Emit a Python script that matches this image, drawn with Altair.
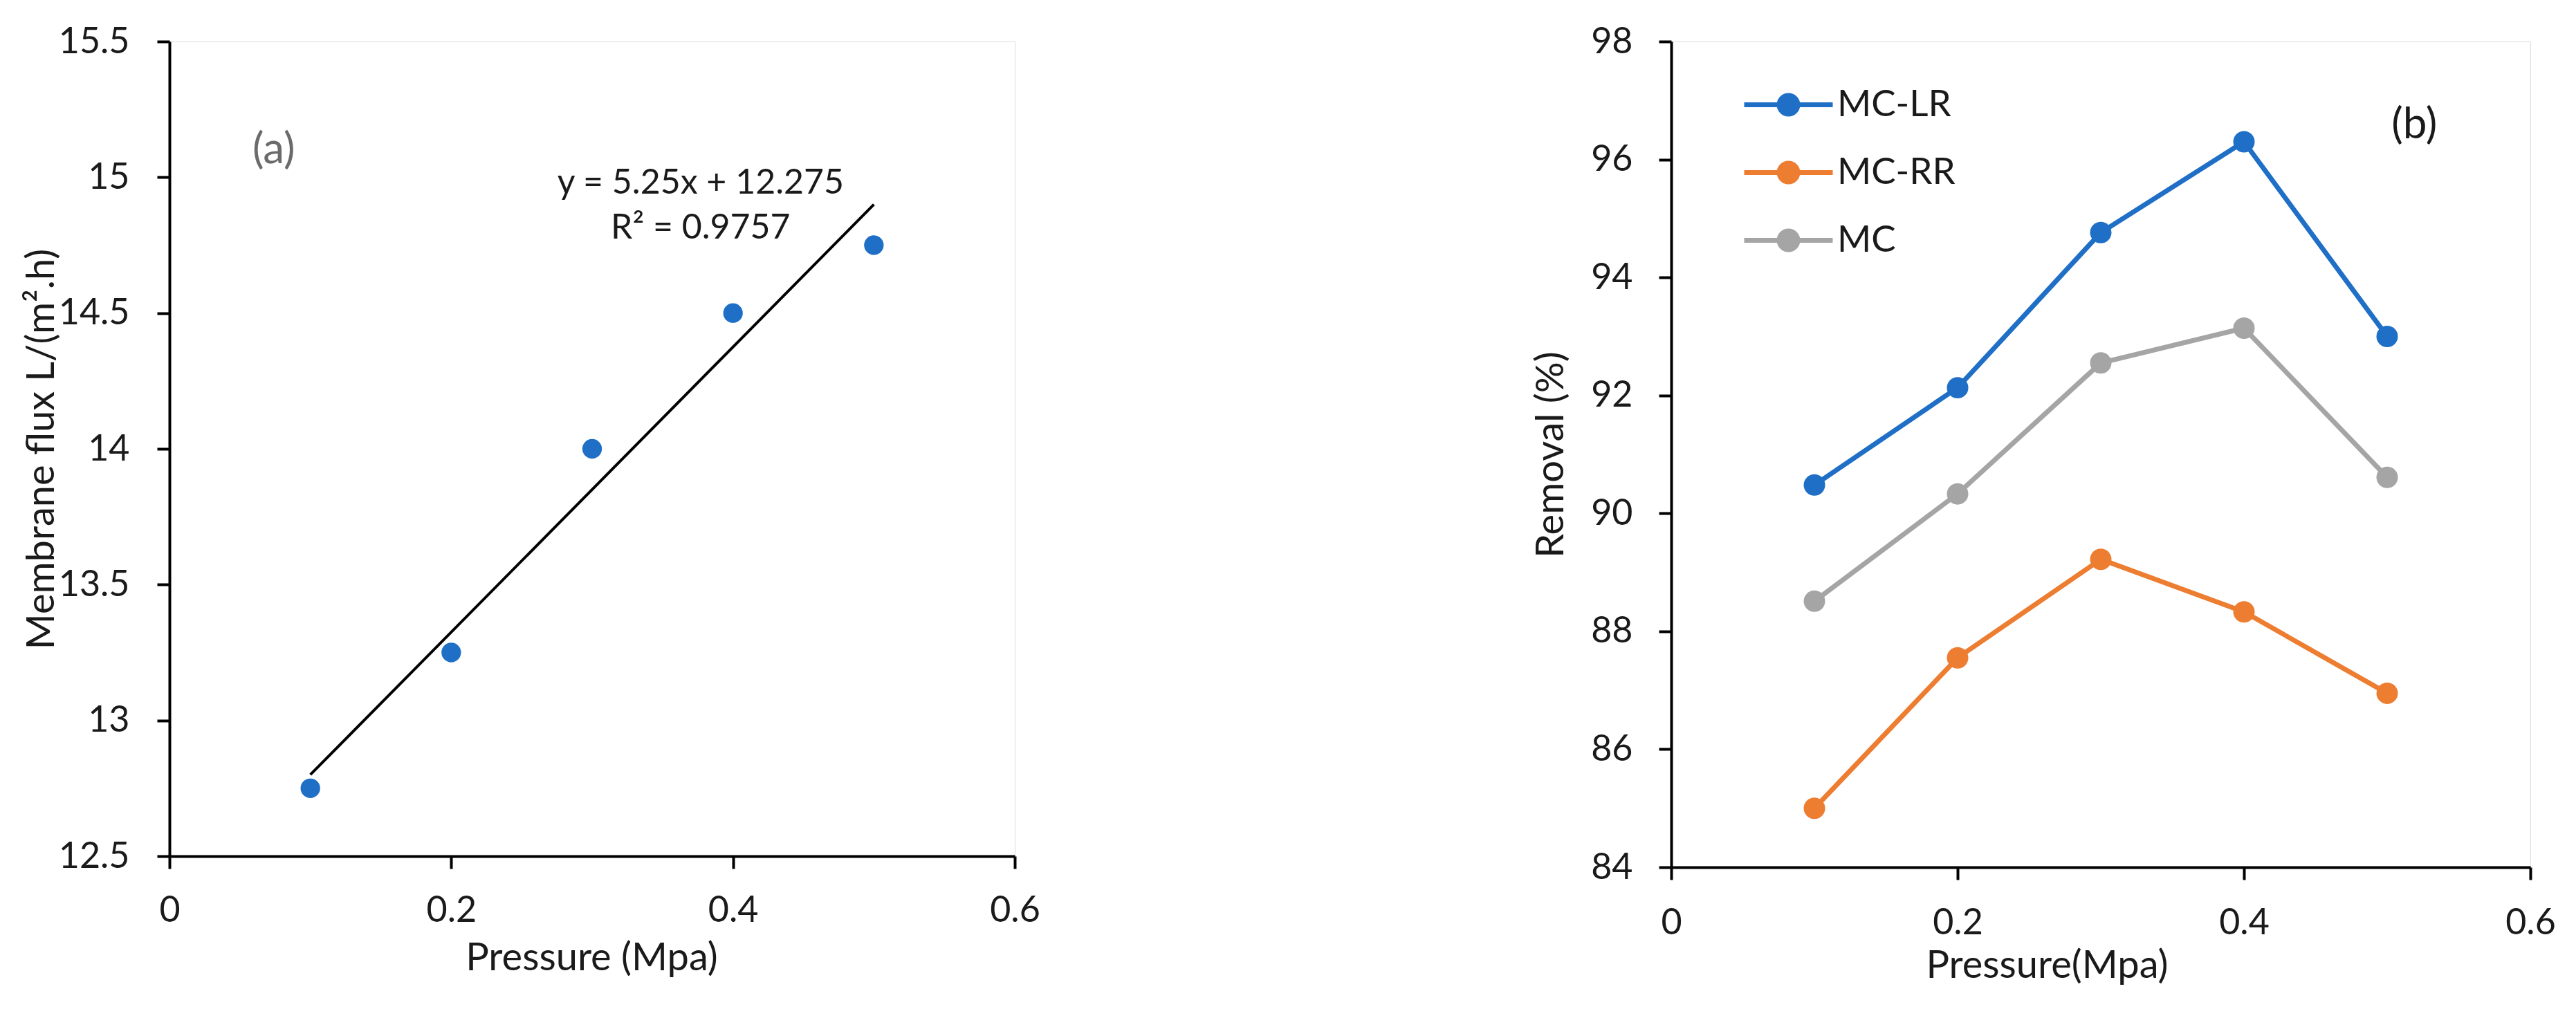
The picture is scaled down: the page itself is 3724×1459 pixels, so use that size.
import altair as alt
import pandas as pd

# ---------------- data ----------------
pressure = [0.1, 0.2, 0.3, 0.4, 0.5]
flux = [12.75, 13.25, 14.0, 14.5, 14.75]

series_names = ["MC-LR", "MC-RR", "MC"]
series_colors = ["#1F6FC6", "#ED7D31", "#A5A5A5"]
removal_mclr = [90.48, 92.13, 94.76, 96.30, 93.00]
removal_mcrr = [85.00, 87.55, 89.22, 88.33, 86.95]
removal_mc = [88.51, 90.33, 92.55, 93.14, 90.61]

x_ticks = [0, 0.2, 0.4, 0.6]
flux_ticks = [12.5, 13, 13.5, 14, 14.5, 15, 15.5]
removal_ticks = [84, 86, 88, 90, 92, 94, 96, 98]

eq_text = ["y = 5.25x + 12.275", "R\u00b2 = 0.9757"]
eq_x = [0.377, 0.377]
eq_y = [14.978, 14.812]
panel_a_label, panel_a_x, panel_a_y = "(a)", 0.074, 15.10
panel_b_label, panel_b_x, panel_b_y = "(b)", 0.519, 96.58

FONT = "Lato"
TXT = "#1a1a1a"

df_a = pd.DataFrame({"p": pressure, "flux": flux})
df_eq = pd.DataFrame({"x": eq_x, "y": eq_y, "t": eq_text})
df_la = pd.DataFrame({"x": [panel_a_x], "y": [panel_a_y], "t": [panel_a_label]})
df_lb = pd.DataFrame({"x": [panel_b_x], "y": [panel_b_y], "t": [panel_b_label]})

rows = []
for name, vals in zip(series_names, [removal_mclr, removal_mcrr, removal_mc]):
    for p, v in zip(pressure, vals):
        rows.append({"p": p, "removal": v, "series": name})
df_b = pd.DataFrame(rows)


def axis_common(**kw):
    base = dict(
        grid=False,
        domainColor="black",
        domainWidth=4,
        tickColor="black",
        tickWidth=4,
        tickSize=18,
        labelFont=FONT,
        labelFontSize=52,
        labelColor=TXT,
        labelFlush=False,
        labelOverlap=False,
        titleFont=FONT,
        titleFontSize=56,
        titleFontWeight="normal",
        titleColor=TXT,
        titleBaseline="middle",
        titleAlign="center",
        format="~g",
    )
    base.update(kw)
    return alt.Axis(**base)


# ---------------- panel (a) ----------------
W_A, H_A = 1222, 1178
xa = alt.X(
    "p:Q",
    scale=alt.Scale(domain=[0, 0.6], nice=False, zero=False),
    axis=axis_common(values=x_ticks, title="Pressure (Mpa)", labelPadding=60,
                     labelBaseline="middle", titleX=610, titleY=147),
)
ya = alt.Y(
    "flux:Q",
    scale=alt.Scale(domain=[12.5, 15.5], nice=False, zero=False),
    axis=axis_common(values=flux_ticks, title="Membrane flux L/(m\u00b2.h)",
                     labelPadding=40, titleX=-185, titleY=H_A / 2, titleAngle=270),
)

pts_a = alt.Chart(df_a).mark_circle(size=800, color="#1F6FC6", opacity=1).encode(x=xa, y=ya)
trend_a = (
    alt.Chart(df_a)
    .transform_regression("p", "flux", method="linear")
    .mark_line(color="black", strokeWidth=4)
    .encode(x="p:Q", y="flux:Q")
)
eq_a = alt.Chart(df_eq).mark_text(font=FONT, fontSize=50, color=TXT, align="center",
                                  baseline="middle").encode(x="x:Q", y="y:Q", text="t:N")
lab_a = alt.Chart(df_la).mark_text(font=FONT, fontSize=62, color="#6b6b6b", align="center",
                                   baseline="middle").encode(x="x:Q", y="y:Q", text="t:N")

panel_a = alt.layer(pts_a, trend_a, eq_a, lab_a).properties(width=W_A, height=H_A)

# ---------------- panel (b) ----------------
W_B, H_B = 1242, 1194
xb = alt.X(
    "p:Q",
    scale=alt.Scale(domain=[0, 0.6], nice=False, zero=False),
    axis=axis_common(values=x_ticks, title="Pressure(Mpa)", labelPadding=62,
                     labelBaseline="middle", titleX=543, titleY=142),
)
yb = alt.Y(
    "removal:Q",
    scale=alt.Scale(domain=[84, 98], nice=False, zero=False),
    axis=axis_common(values=removal_ticks, title="Removal (%)", labelPadding=38,
                     titleX=-174, titleY=H_B / 2, titleAngle=270),
)

color_expr = "".join(
    f"datum.value === '{n}' ? '{c}' : " for n, c in zip(series_names, series_colors)
) + "'black'"

# the legend is attached to the top-level group, whose origin is panel (a)'s plot origin
legend_b = alt.Legend(
    orient="none",
    legendX=2314,
    legendY=65,
    title=None,
    padding=0,
    symbolType="M-4,0L4,0M0.84,0A0.84,0.84,0,1,1,-0.84,0A0.84,0.84,0,1,1,0.84,0Z",
    symbolSize=1024,
    symbolStrokeWidth=7,
    symbolFillColor={"expr": color_expr},
    symbolOpacity=1,
    labelFont=FONT,
    labelFontSize=53,
    labelColor=TXT,
    labelOffset=44,
    rowPadding=43,
    labelLimit=0,
)

scale_b = alt.Scale(domain=series_names, range=series_colors)

lines_b = alt.Chart(df_b).mark_line(strokeWidth=7).encode(
    x=xb, y=yb, color=alt.Color("series:N", scale=scale_b, legend=legend_b)
)
pts_b = alt.Chart(df_b).mark_circle(size=960, opacity=1).encode(
    x=xb, y=yb, color=alt.Color("series:N", scale=scale_b, legend=None)
)
lab_b = alt.Chart(df_lb).mark_text(font=FONT, fontSize=62, color=TXT, align="center",
                                   baseline="middle").encode(x="x:Q", y="y:Q", text="t:N")

panel_b = alt.layer(lines_b, pts_b, lab_b).properties(width=W_B, height=H_B)

chart = (
    alt.hconcat(panel_a, panel_b, spacing=709)
    .properties(padding={"left": 23, "top": 25, "right": 10, "bottom": 10})
    .configure_view(stroke="black", strokeWidth=4)
    .configure(font=FONT, background="white")
)

chart.save("out.html", embed_options={"renderer": "svg", "actions": False})
